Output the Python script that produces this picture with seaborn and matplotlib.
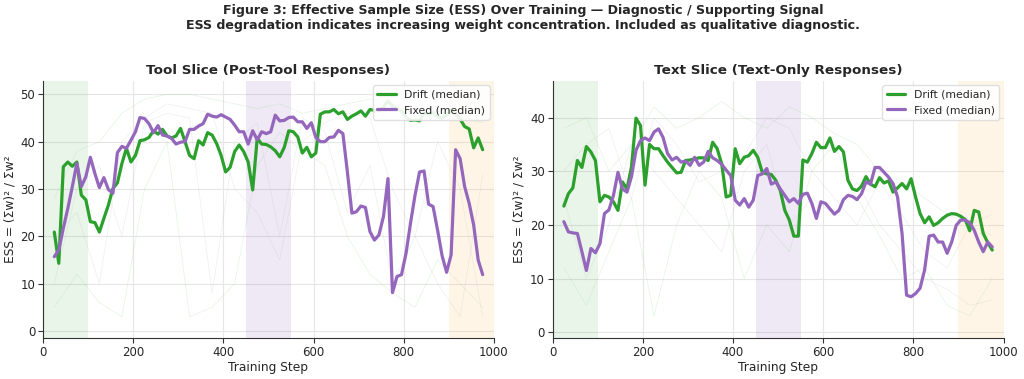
import numpy as np
import pandas as pd
import matplotlib
matplotlib.use("Agg")
import matplotlib.pyplot as plt
import seaborn as sns

sns.set_style("whitegrid", {"xtick.bottom": True, "ytick.left": True,
                            "axes.edgecolor": "#333333", "grid.color": "#e6e6e6"})
plt.rcParams["font.family"] = ["DejaVu Sans"]

# median lines, one point every 10 steps
steps = list(range(25, 985, 10))

tool_drift = [20.9, 14.3, 34.7, 35.7, 34.8, 35.7, 28.7, 27.7, 23.1, 22.9,
              20.9, 23.8, 26.6, 30.1, 31.3, 35.4, 38.6, 35.7, 37.1, 40.2,
              40.4, 40.9, 42.3, 41.6, 42.6, 41.2, 40.8, 41.2, 42.8, 40.0,
              37.1, 36.4, 40.2, 39.3, 41.9, 41.4, 39.6, 37.1, 33.6, 34.6,
              37.9, 39.3, 37.9, 35.7, 29.8, 40.7, 39.5, 39.4, 38.9, 38.1,
              36.8, 38.8, 42.3, 42.1, 41.0, 37.6, 38.8, 36.8, 37.6, 45.8,
              46.3, 46.3, 46.8, 45.9, 46.3, 44.7, 45.4, 45.9, 46.5, 45.4,
              46.8, 46.6, 46.6, 47.3, 48.6, 47.5, 47.0, 46.5, 45.2, 44.5,
              44.6, 44.4, 46.0, 45.8, 46.2, 45.3, 45.0, 45.6, 46.8, 45.8,
              44.8, 43.2, 42.7, 38.7, 40.8, 38.3]
tool_fixed = [15.7, 17.1, 21.7, 25.9, 30.5, 35.4, 30.5, 32.6, 36.7, 33.3,
              30.3, 32.4, 29.9, 29.1, 37.7, 39.0, 38.6, 40.3, 42.1, 45.1,
              44.9, 43.8, 41.9, 43.4, 41.4, 41.2, 40.7, 39.5, 39.9, 40.0,
              42.6, 42.6, 43.3, 43.8, 45.8, 45.4, 45.2, 45.7, 45.2, 44.7,
              43.5, 42.1, 42.1, 39.5, 42.3, 40.4, 42.1, 41.7, 42.1, 45.6,
              44.4, 44.5, 45.1, 45.2, 44.2, 44.2, 42.8, 44.0, 40.9, 40.0,
              40.0, 40.9, 41.0, 42.4, 41.7, 33.6, 24.9, 25.2, 26.4, 26.1,
              21.0, 19.2, 20.3, 24.2, 32.2, 8.1, 11.5, 11.9, 16.4, 22.8,
              28.7, 33.6, 33.8, 26.8, 26.3, 21.3, 15.9, 12.4, 16.1, 38.3,
              36.4, 30.5, 27.0, 22.4, 15.0, 11.9]
text_drift = [23.5, 25.8, 26.9, 32.0, 30.7, 34.6, 33.6, 32.0, 24.3, 25.5,
              25.2, 24.3, 22.7, 28.0, 26.7, 30.8, 39.9, 38.5, 27.4, 35.0,
              34.2, 34.2, 32.9, 31.7, 30.7, 29.7, 29.8, 32.0, 32.1, 32.3,
              32.5, 32.5, 32.0, 35.4, 34.2, 31.4, 25.2, 25.5, 34.2, 31.4,
              32.6, 32.9, 33.9, 32.6, 29.8, 29.5, 29.4, 28.3, 26.4, 22.7,
              20.9, 17.9, 17.9, 32.1, 31.7, 33.3, 35.4, 34.4, 34.4, 36.2,
              33.7, 34.6, 33.6, 28.3, 26.7, 26.4, 27.2, 29.0, 27.6, 27.1,
              28.8, 27.8, 28.2, 26.1, 26.9, 27.7, 26.7, 28.6, 25.2, 22.1,
              20.4, 21.5, 19.9, 20.4, 21.2, 21.8, 22.1, 22.0, 21.6, 21.0,
              18.9, 22.7, 22.4, 18.4, 16.7, 15.3]
text_fixed = [20.6, 18.7, 18.5, 18.4, 15.0, 11.5, 15.6, 14.8, 16.5, 22.1,
              22.8, 25.5, 29.8, 26.7, 26.1, 29.0, 33.9, 35.7, 36.2, 35.7,
              37.3, 37.9, 36.3, 33.3, 32.1, 32.6, 31.7, 31.9, 31.1, 32.6,
              31.1, 31.7, 33.7, 32.5, 32.0, 31.3, 30.2, 29.2, 24.6, 23.7,
              24.9, 23.3, 24.6, 29.2, 29.5, 30.5, 27.6, 28.0, 26.7, 25.5,
              24.3, 24.9, 24.0, 25.7, 25.9, 24.0, 21.2, 24.3, 24.0, 23.0,
              22.0, 22.7, 24.7, 25.5, 25.3, 24.7, 25.8, 28.0, 27.6, 30.7,
              30.7, 29.8, 28.9, 27.7, 25.2, 18.4, 6.9, 6.6, 7.2, 8.2,
              11.6, 17.9, 18.1, 16.8, 16.8, 14.7, 16.8, 19.9, 20.9, 20.9,
              20.4, 19.0, 16.8, 15.0, 16.8, 15.9]

# individual seeds (faint), one point every 50 steps
seed_steps = list(range(25, 1000, 50))
tool_seeds = [
    [28, 38, 40, 46, 49, 50, 50, 49, 48, 47, 48, 46, 47, 48, 49, 48, 47, 46, 45, 44],
    [10, 30, 35, 20, 44, 46, 45, 8, 40, 44, 20, 45, 42, 25, 35, 10, 20, 40, 30, 3],
    [5, 12, 6, 3, 30, 40, 3, 5, 10, 35, 42, 38, 35, 20, 12, 8, 5, 15, 10, 5],
    [20, 25, 10, 40, 45, 48, 47, 46, 30, 25, 15, 40, 44, 46, 45, 30, 20, 10, 3, 33],
]
text_seeds = [
    [38, 40, 30, 35, 42, 38, 40, 43, 40, 38, 42, 40, 37, 35, 30, 28, 25, 22, 20, 18],
    [25, 10, 20, 35, 30, 25, 20, 15, 30, 35, 20, 25, 22, 28, 20, 15, 10, 8, 5, 6],
    [12, 5, 15, 25, 3, 20, 30, 25, 10, 20, 15, 30, 35, 25, 18, 10, 12, 5, 3, 10],
    [30, 35, 38, 25, 40, 35, 28, 30, 33, 40, 38, 30, 25, 20, 28, 22, 15, 12, 20, 22],
]

GREEN = "#2ca02c"
PURPLE = "#9467bd"


def panel(ax, drift, fixed, seeds, title, ylim):
    ax.axvspan(0, 100, color=GREEN, alpha=0.10, lw=0)
    ax.axvspan(450, 550, color=PURPLE, alpha=0.15, lw=0)
    ax.axvspan(900, 1000, color="#ff9f1c", alpha=0.10, lw=0)
    for i, s in enumerate(seeds):
        c = "#7fd17f" if i % 2 == 0 else "#b5b5b5"
        ax.plot(seed_steps, s, color=c, lw=0.5, alpha=0.22, zorder=1)
    df = pd.DataFrame({"step": steps * 2,
                       "ess": drift + fixed,
                       "run": ["Drift (median)"] * len(steps) + ["Fixed (median)"] * len(steps)})
    sns.lineplot(data=df, x="step", y="ess", hue="run", palette=[GREEN, PURPLE],
                 lw=2.3, ax=ax, zorder=3)
    ax.set_xlim(0, 1000)
    ax.set_ylim(*ylim)
    ax.set_title(title, fontsize=9.7, fontweight="bold", pad=5)
    ax.set_xlabel("Training Step", fontsize=8.8, labelpad=2)
    ax.set_ylabel("ESS = (Σw)² / Σw²", fontsize=8.8, labelpad=3)
    ax.tick_params(labelsize=8.5, length=3.5, color="#333333", pad=2)
    ax.legend(loc="upper right", fontsize=7.8, frameon=True, framealpha=0.9,
              edgecolor="#dddddd", handlelength=1.7, borderaxespad=0.4)
    sns.despine(ax=ax)


fig, axes = plt.subplots(1, 2, figsize=(10.24, 3.79), dpi=100)
fig.subplots_adjust(left=0.042, right=0.980, bottom=0.108, top=0.786, wspace=0.13)
panel(axes[0], tool_drift, tool_fixed, tool_seeds, "Tool Slice (Post-Tool Responses)", (-1.5, 52.8))
panel(axes[1], text_drift, text_fixed, text_seeds, "Text Slice (Text-Only Responses)", (-1.1, 46.8))
fig.suptitle("Figure 3: Effective Sample Size (ESS) Over Training — Diagnostic / Supporting Signal\n"
             "ESS degradation indicates increasing weight concentration. Included as qualitative diagnostic.",
             fontsize=9.1, fontweight="bold", x=0.511, y=0.99, va="top", linespacing=1.25)
fig.savefig("out.png", dpi=100)
